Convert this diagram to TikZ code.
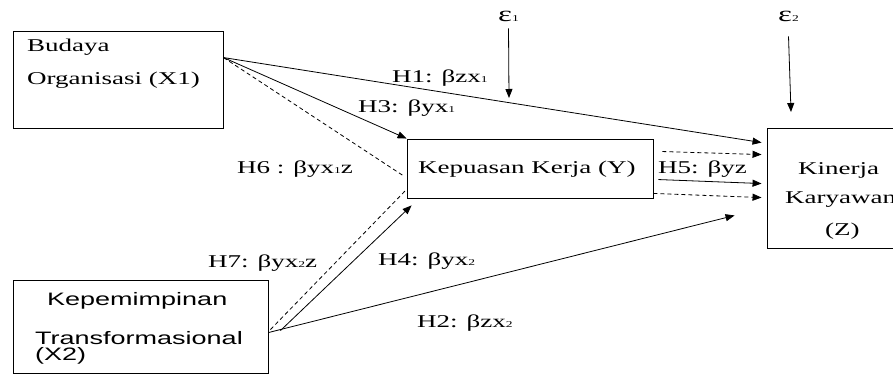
\documentclass[tikz,border=0pt]{standalone}
\usepackage{fontspec}
\setmainfont[FakeStretch=1.5]{Liberation Serif}
\newfontfamily\arialf[FakeStretch=1.5]{Liberation Sans}
\usetikzlibrary{arrows.meta}
\newcommand\lsub[1]{{\fontsize{9}{9}\selectfont #1}}
\begin{document}
\begin{tikzpicture}[x=1pt,y=-1pt,
  box/.style={draw, line width=0.9pt, inner sep=0pt},
  txt/.style={anchor=base west, inner sep=0pt, font=\fontsize{18}{20}\selectfont},
  stxt/.style={anchor=base west, inner sep=0pt, font=\arialf\fontsize{18}{20}\selectfont},
  eps/.style={anchor=base west, inner sep=0pt, font=\fontsize{22}{24}\selectfont},
  arr/.style={-{Triangle[length=9pt,width=7pt]}, line width=0.8pt},
  dsh/.style={dash pattern=on 4pt off 3pt, line width=0.8pt},
  darr/.style={dsh, -{Triangle[length=9pt,width=7pt]}}]
\clip (0,0) rectangle (893,374);
% boxes
\node[box, minimum width=210pt, minimum height=97pt] (X1) at (118,79.5) {};
\node[box, minimum width=246pt, minimum height=59pt] (Y) at (530,168.5) {};
\node[box, minimum width=154pt, minimum height=120pt] (Z) at (844,188) {};
\node[box, minimum width=255pt, minimum height=93pt] (X2) at (140.5,326.5) {};
% box texts
\node[txt] (tb1) at (27,52) {Budaya};
\node[txt] (tb2) at (27,85) {Organisasi (X1)};
\node[txt] (ty) at (418,173) {Kepuasan Kerja (Y)};
\node[txt] (tz1) at (798,175) {Kinerja};
\node[txt] (tz2) at (785,203) {Karyawan};
\node[txt] (tz3) at (825,235) {(Z)};
\node[stxt] (tk1) at (47,305) {Kepemimpinan};
\node[stxt] (tk2) at (35,344) {Transformasional};
\node[stxt] (tk3) at (35,360) {(X2)};
% error terms
\node[eps] (e1) at (498,22) {ε\lsub{1}};
\node[eps] (e2) at (778,22) {ε\lsub{2}};
\coordinate (e1t) at (509,98);
\coordinate (e2t) at (791,112);
\draw[arr] ([yshift=-6pt]e1.south) -- (e1t);
\draw[arr] ([yshift=-14pt]e2.south) -- (e2t);
% paths from X1
\draw[arr] ([yshift=-27pt]X1.north east) -- ([xshift=-5pt,yshift=-15pt]Z.north west);
\draw[arr] ([yshift=-27pt]X1.north east) -- (Y.north west);
\draw[dsh] ([yshift=-27pt]X1.north east) -- ([xshift=-2pt,yshift=-38pt]Y.north west);
% Y to Z
\draw[darr] ([xshift=9pt,yshift=-13pt]Y.north east) -- ([xshift=-5pt,yshift=-27pt]Z.north west);
\draw[arr] ([xshift=5pt,yshift=-41pt]Y.north east) -- ([xshift=-5pt,yshift=-56pt]Z.north west);
\draw[darr] ([yshift=5pt]Y.south east) -- ([xshift=-5pt,yshift=-70pt]Z.north west);
% paths from X2
\draw[dsh] ([xshift=2pt,yshift=-50pt]X2.north east) -- ([xshift=-1pt,yshift=8pt]Y.south west);
\draw[arr] ([xshift=12pt,yshift=-51pt]X2.north east) -- ([xshift=5pt,yshift=-7pt]Y.south west);
\draw[arr] ([yshift=-53pt]X2.north east) -- ([xshift=-32pt,yshift=33pt]Z.south west);
% labels
\node[txt] (h1) at (392,83) {H1: βzx\lsub{1}};
\node[txt] (h3) at (358,113) {H3: βyx\lsub{1}};
\node[txt] (h6) at (237,173) {H6 : βyx\lsub{1}z};
\node[txt] (h5) at (658,173) {H5: βyz};
\node[txt] (h7) at (208,267) {H7: βyx\lsub{2}z};
\node[txt] (h4) at (378,265) {H4: βyx\lsub{2}};
\node[txt] (h2) at (417,327) {H2: βzx\lsub{2}};
\end{tikzpicture}
\end{document}
